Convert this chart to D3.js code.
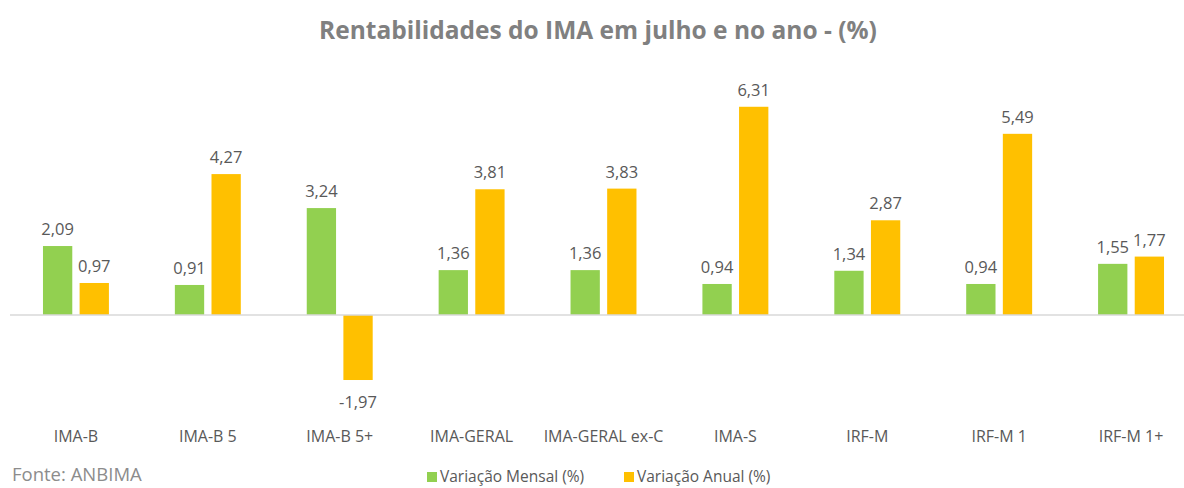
<!DOCTYPE html>
<html>
<head>
  <meta charset="utf-8">
  <title>Rentabilidades do IMA</title>
  <script src="https://d3js.org/d3.v7.min.js"></script>
  <style>
    body { margin: 0; background: #fff; }
    text { font-family: "Open Sans", "Noto Sans", sans-serif; }
  </style>
</head>
<body>
<script type="text/javascript">
  // chart data
  var categories = ["IMA-B", "IMA-B 5", "IMA-B 5+", "IMA-GERAL", "IMA-GERAL ex-C", "IMA-S", "IRF-M", "IRF-M 1", "IRF-M 1+"];
  var mensal = [2.09, 0.91, 3.24, 1.36, 1.36, 0.94, 1.34, 0.94, 1.55];
  var anual = [0.97, 4.27, -1.97, 3.81, 3.83, 6.31, 2.87, 5.49, 1.77];
  var seriesNames = ["Variação Mensal (%)", "Variação Anual (%)"];
  var colors = ["#92D050", "#FFC000"];

  var w = 1184;
  var h = 488;

  var svg = d3.select("body").append("svg")
    .attr("width", w)
    .attr("height", h);

  var x0 = d3.scaleBand()
    .domain(categories)
    .range([10, 1197])
    .paddingInner(0.5)
    .paddingOuter(0.25);

  var x1 = d3.scaleBand()
    .domain([0, 1])
    .range([0, x0.bandwidth()])
    .paddingInner(0.2);

  var y = d3.scaleLinear()
    .domain([-2.5, 7])
    .range([315 + 2.5 * 33, 315 - 7 * 33]);

  var fmt = function(v){ return d3.format(".2f")(v).replace(".", ",").replace("\u2212", "-"); };

  svg.append("text")
    .attr("x", 598)
    .attr("y", 39)
    .attr("text-anchor", "middle")
    .attr("font-size", "24.5px")
    .attr("font-weight", "bold")
    .attr("fill", "#808080")
    .text("Rentabilidades do IMA em julho e no ano - (%)");

  var rows = categories.map(function(c, i){
    return { cat: c, vals: [mensal[i], anual[i]] };
  });

  var groups = svg.selectAll("g.cat")
    .data(rows)
    .enter()
    .append("g")
    .attr("class", "cat")
    .attr("transform", function(d){ return "translate(" + x0(d.cat) + ",0)"; });

  groups.selectAll("rect")
    .data(function(d){ return d.vals; })
    .enter()
    .append("rect")
    .attr("x", function(d, i){ return x1(i); })
    .attr("width", x1.bandwidth())
    .attr("y", function(d){ return y(Math.max(0, d)); })
    .attr("height", function(d){ return Math.abs(y(d) - y(0)); })
    .attr("fill", function(d, i){ return colors[i]; });

  groups.selectAll("text.val")
    .data(function(d){ return d.vals; })
    .enter()
    .append("text")
    .attr("class", "val")
    .attr("x", function(d, i){ return x1(i) + x1.bandwidth() / 2; })
    .attr("y", function(d){ return d >= 0 ? y(d) - 11 : y(d) + 28; })
    .attr("text-anchor", "middle")
    .attr("font-size", "16.5px")
    .attr("fill", "#595959")
    .text(fmt);

  // zero line
  svg.append("line")
    .attr("x1", 10)
    .attr("x2", w)
    .attr("y1", y(0))
    .attr("y2", y(0))
    .attr("stroke", "#d9d9d9")
    .attr("stroke-width", 1.5);

  // category labels
  var xAxis = svg.append("g")
    .attr("transform", "translate(0,431)")
    .call(d3.axisBottom(x0).tickSize(0).tickPadding(0));
  xAxis.select(".domain").remove();
  xAxis.selectAll("text")
    .attr("font-size", "16px")
    .attr("fill", "#595959")
    .attr("dy", "0.71em")
    .style("font-family", "\"Open Sans\", sans-serif");

  svg.append("text")
    .attr("x", 12)
    .attr("y", 481)
    .attr("font-size", "18.5px")
    .attr("fill", "#8c8c8c")
    .text("Fonte: ANBIMA");

  var legendX = [427, 624];
  var legend = svg.selectAll("g.leg")
    .data(seriesNames)
    .enter()
    .append("g")
    .attr("class", "leg")
    .attr("transform", function(d, i){ return "translate(" + legendX[i] + ",472)"; });
  legend.append("rect")
    .attr("width", 10)
    .attr("height", 10)
    .attr("fill", function(d, i){ return colors[i]; });
  legend.append("text")
    .attr("x", 13)
    .attr("y", 10)
    .attr("font-size", "15.5px")
    .attr("fill", "#595959")
    .text(function(d){ return d; });
</script>
</body>
</html>
